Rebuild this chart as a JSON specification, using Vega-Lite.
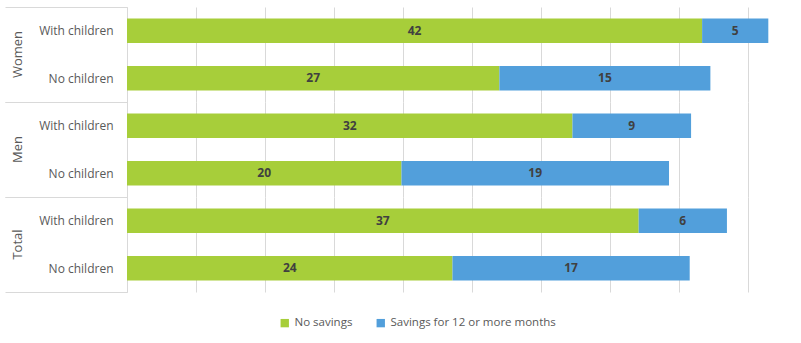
{
  "$schema": "https://vega.github.io/schema/vega-lite/v6.json",
  "padding": {"top": 1, "left": 4, "right": 0, "bottom": 0},
  "background": "white",
  "data": {"values": [
    {"group": "Women", "cat": "With children", "series": "No savings", "value": 41.7},
    {"group": "Women", "cat": "With children", "series": "Savings for 12 or more months", "value": 4.8},
    {"group": "Women", "cat": "No children", "series": "No savings", "value": 27.0},
    {"group": "Women", "cat": "No children", "series": "Savings for 12 or more months", "value": 15.3},
    {"group": "Men", "cat": "With children", "series": "No savings", "value": 32.3},
    {"group": "Men", "cat": "With children", "series": "Savings for 12 or more months", "value": 8.6},
    {"group": "Men", "cat": "No children", "series": "No savings", "value": 19.9},
    {"group": "Men", "cat": "No children", "series": "Savings for 12 or more months", "value": 19.4},
    {"group": "Total", "cat": "With children", "series": "No savings", "value": 37.1},
    {"group": "Total", "cat": "With children", "series": "Savings for 12 or more months", "value": 6.4},
    {"group": "Total", "cat": "No children", "series": "No savings", "value": 23.6},
    {"group": "Total", "cat": "No children", "series": "Savings for 12 or more months", "value": 17.2}
  ]},
  "facet": {
    "row": {
      "field": "group", "type": "nominal", "sort": ["Women", "Men", "Total"],
      "header": {"title": null, "labelAngle": -90, "labelOrient": "left", "labelFont": "Open Sans", "labelFontSize": 13, "labelColor": "#595959", "labelPadding": -26}
    }
  },
  "spacing": 0,
  "spec": {
    "width": 662,
    "height": 95,
    "encoding": {
      "y": {
        "field": "cat", "type": "nominal", "sort": ["With children", "No children"],
        "scale": {"paddingInner": 0, "paddingOuter": 0},
        "axis": {
          "title": null, "domainColor": "#d9d9d9", "tickColor": "#d9d9d9", "tickSize": 122,
          "tickBand": "extent",
          "tickOpacity": {"condition": {"test": "datum.value === 'With children'", "value": 0}, "value": 1},
          "labelPadding": -108, "labelFont": "Open Sans", "labelFontSize": 12, "labelColor": "#595959", "grid": false
        }
      },
      "order": {"field": "series", "sort": "ascending"}
    },
    "layer": [
      {
        "mark": {"type": "bar", "height": {"band": 0.52}},
        "encoding": {
          "x": {
            "field": "value", "type": "quantitative", "stack": "zero",
            "scale": {"domain": [0, 48], "nice": false},
            "axis": {"title": null, "labels": false, "ticks": false, "domain": false, "grid": true, "gridColor": "#d9d9d9", "values": [0, 5, 10, 15, 20, 25, 30, 35, 40, 45]}
          },
          "color": {
            "field": "series", "type": "nominal",
            "scale": {"domain": ["No savings", "Savings for 12 or more months"], "range": ["#A7CE3A", "#529FDB"]},
            "legend": {"title": null, "orient": "none", "legendX": 152, "legendY": 310, "direction": "horizontal", "symbolType": "square", "symbolSize": 70, "symbolStrokeWidth": 0, "labelFont": "Open Sans", "labelFontSize": 11.5, "labelColor": "#595959", "labelLimit": 400, "columnPadding": 22}
          }
        }
      },
      {
        "mark": {"type": "text", "font": "Open Sans", "fontSize": 12, "fontWeight": "bold", "color": "#404040"},
        "encoding": {
          "x": {"field": "value", "type": "quantitative", "stack": "zero", "bandPosition": 0.5},
          "detail": {"field": "series"},
          "text": {"field": "value", "type": "quantitative", "format": ".0f"}
        }
      }
    ]
  },
  "config": {"view": {"stroke": null}}
}
